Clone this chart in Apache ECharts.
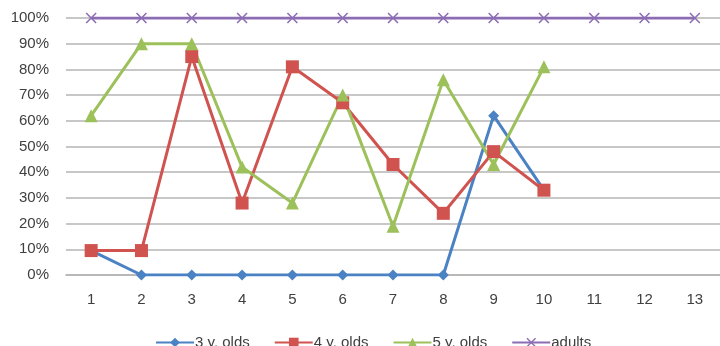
<!DOCTYPE html>
<html><head><meta charset="utf-8">
<script src="https://cdn.jsdelivr.net/npm/echarts@6/dist/echarts.min.js"></script>
<style>html,body{margin:0;padding:0;background:#fff}#c{width:720px;height:346px}</style>
</head><body><div id="c"></div>
<script>
const categories = ['1','2','3','4','5','6','7','8','9','10','11','12','13'];
const threeYOlds = [9.5,0,0,0,0,0,0,0,62,33];
const fourYOlds = [9.5,9.5,85,28,81,67,43,24,48,33];
const fiveYOlds = [62,90,90,42,28,70,19,76,43,81];
const adults = [100,100,100,100,100,100,100,100,100,100,100,100,100];
const seriesNames = ['3 y. olds','4 y. olds','5 y. olds','adults'];

const xPath = 'path://M0,1L1,0L5,4L9,0L10,1L6,5L10,9L9,10L5,6L1,10L0,9L4,5Z';
const colors = ['#4A82C4','#D0534F','#9DC15A','#8C6DB3'];
const font = '"Liberation Sans", Arial, sans-serif';

const chart = echarts.init(document.getElementById('c'));
chart.setOption({
  animation:false,
  color: colors,
  grid:{left:66, top:18, width:656, height:257},
  xAxis:{type:'category', data:categories, boundaryGap:true,
    axisLine:{show:true, lineStyle:{color:'#b4b4b4', width:1.5}},
    axisTick:{show:false},
    axisLabel:{color:'#404040', fontSize:15, fontFamily:font, margin:17}},
  yAxis:{type:'value', min:0, max:100, interval:10,
    axisLine:{show:false}, axisTick:{show:false},
    splitLine:{lineStyle:{color:'#b4b4b4', width:1.5}},
    axisLabel:{color:'#404040', fontSize:15, fontFamily:font, margin:17, formatter:v=>v+'%'}},
  legend:{top:330, left:150, itemWidth:38, itemHeight:12, itemGap:24,
    textStyle:{color:'#404040', fontSize:15, fontFamily:font, padding:[0,0,0,-4]},
    data:seriesNames},
  series:[
    {name:seriesNames[0], type:'line', data:threeYOlds, symbol:'diamond', symbolSize:11,
      lineStyle:{width:3}, itemStyle:{color:colors[0]}},
    {name:seriesNames[1], type:'line', data:fourYOlds, symbol:'rect', symbolSize:13,
      lineStyle:{width:3}, itemStyle:{color:colors[1]}},
    {name:seriesNames[2], type:'line', data:fiveYOlds, symbol:'triangle', symbolSize:13,
      lineStyle:{width:3}, itemStyle:{color:colors[2]}},
    {name:seriesNames[3], type:'line', data:adults, symbol:xPath, symbolSize:11,
      lineStyle:{width:3}, itemStyle:{color:colors[3]}}
  ]
});
</script></body></html>
